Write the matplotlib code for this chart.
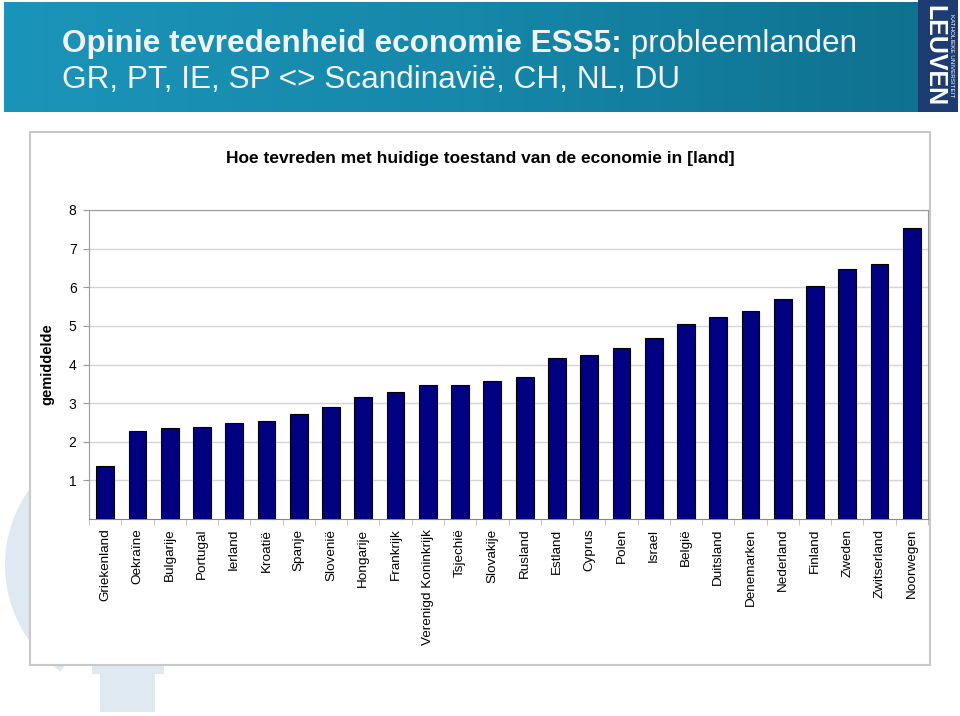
import numpy as np
import matplotlib
matplotlib.use("Agg")
import matplotlib.pyplot as plt
from matplotlib.patches import Rectangle, Wedge
from matplotlib import font_manager

countries = ['Griekenland', 'Oekraïne', 'Bulgarije', 'Portugal', 'Ierland', 'Kroatië',
             'Spanje', 'Slovenië', 'Hongarije', 'Frankrijk', 'Verenigd Koninkrijk',
             'Tsjechië', 'Slovakije', 'Rusland', 'Estland', 'Cyprus', 'Polen', 'Israel',
             'België', 'Duitsland', 'Denemarken', 'Nederland', 'Finland', 'Zweden',
             'Zwitserland', 'Noorwegen']
values = [1.37, 2.29, 2.35, 2.38, 2.48, 2.55, 2.72, 2.89, 3.16, 3.29, 3.47,
          3.47, 3.58, 3.67, 4.18, 4.25, 4.44, 4.69, 5.06, 5.22, 5.39, 5.70,
          6.03, 6.47, 6.61, 7.53]
y_ticks = [1, 2, 3, 4, 5, 6, 7, 8]

title1_bold = 'Opinie tevredenheid economie ESS5:'
title1_rest = ' probleemlanden'
title2 = 'GR, PT, IE, SP <> Scandinavië, CH, NL, DU'
chart_title = 'Hoe tevreden met huidige toestand van de economie in [land]'

names = {f.name for f in font_manager.fontManager.ttflist}
narrow = 'Liberation Sans Narrow' if 'Liberation Sans Narrow' in names else 'Liberation Sans'
banner_size = 24 if narrow == 'Liberation Sans Narrow' else 22.7
plt.rcParams['font.family'] = ['Liberation Sans', 'DejaVu Sans']

W, H = 960, 716
fig = plt.figure(figsize=(9.6, 7.16), dpi=100)


def fx(px):
    return px / W


def fy(py):
    return 1 - py / H


# faint key watermark in the background
wm = '#dfe9f1'
ax_bg = fig.add_axes([0, 0, 1, 1], zorder=0)
ax_bg.set_xlim(0, W)
ax_bg.set_ylim(H, 0)
ax_bg.axis('off')
ax_bg.add_patch(Rectangle((100, 660), 55, 52, facecolor=wm, edgecolor='none'))
ax_bg.add_patch(Rectangle((92, 660), 72, 14, facecolor=wm, edgecolor='none'))
ax_bg.add_patch(Wedge((135, 565), 130, 125, 225, width=24, facecolor=wm, edgecolor='none'))

# banner with gradient
ax_ban = fig.add_axes([fx(4), fy(112), fx(916), 110 / H], zorder=1)
grad = np.linspace(0, 1, 256).reshape(1, -1)
cmap = matplotlib.colors.LinearSegmentedColormap.from_list('ban', ['#1b94b9', '#1688aa', '#0f7190'])
ax_ban.imshow(grad, aspect='auto', cmap=cmap, extent=[0, 1, 0, 1])
ax_ban.axis('off')

# logo box
ax_logo = fig.add_axes([fx(918), fy(112), fx(40), 112 / H], zorder=1)
ax_logo.set_facecolor('#1d3c72')
ax_logo.set_xticks([])
ax_logo.set_yticks([])
for s in ax_logo.spines.values():
    s.set_visible(False)
ax_logo.text(0.42, 0.5, 'LEUVEN', rotation=-90, color='white', fontsize=18, fontweight='bold',
             ha='center', va='center', transform=ax_logo.transAxes)
ax_logo.text(0.85, 0.5, 'KATHOLIEKE UNIVERSITEIT', rotation=-90, color='white', fontsize=4.5,
             ha='center', va='center', transform=ax_logo.transAxes)

# banner texts
t1 = fig.text(fx(62), fy(52), title1_bold, color='#f2f2f2', fontsize=banner_size, fontweight='bold',
              family=[narrow, 'DejaVu Sans'], va='baseline', zorder=3)
fig.canvas.draw()
bb = t1.get_window_extent(fig.canvas.get_renderer())
fig.text(bb.x1 / W, fy(52), title1_rest, color='#f2f2f2', fontsize=banner_size,
         family=[narrow, 'DejaVu Sans'], va='baseline', zorder=3)
fig.text(fx(62), fy(88), title2, color='#f2f2f2', fontsize=banner_size,
         family=[narrow, 'DejaVu Sans'], va='baseline', zorder=3)

# white chart box
fig.patches.append(Rectangle((fx(30), fy(665)), fx(900), 533 / H, transform=fig.transFigure,
                             facecolor='white', edgecolor='#c9c9c9', linewidth=1.5, zorder=1))

fig.text(0.5, fy(158), chart_title, ha='center', va='center', fontsize=12.5,
         fontweight='bold', color='black', zorder=3)

# bar chart
ax = fig.add_axes([fx(89), fy(519), fx(839), 309 / H], zorder=2)
ax.patch.set_alpha(0)
x = np.arange(len(countries))
ax.bar(x, values, width=0.55, color='#000080', edgecolor='black', linewidth=0.8, zorder=3)
ax.set_xlim(-0.5, len(countries) - 0.5)
ax.set_ylim(0, 8)
ax.set_yticks(y_ticks)
ax.set_yticklabels([str(t) for t in y_ticks], fontsize=10)
ax.yaxis.grid(True, color='#d4d4d4', linewidth=1, zorder=0)
ax.set_xticks(x)
ax.set_xticklabels(countries, rotation=90, fontsize=9.7)
ax.set_xticks(np.arange(len(countries) + 1) - 0.5, minor=True)
ax.tick_params(axis='x', which='major', length=0, pad=7)
ax.tick_params(axis='x', which='minor', length=4, color='#bbbbbb', direction='out')
ax.tick_params(axis='y', length=4, color='#999999', pad=5)
for side in ['left', 'right', 'top']:
    ax.spines[side].set_color('#9a9a9a')
ax.spines['bottom'].set_color('#888888')
ax.set_ylabel('gemiddelde', fontsize=10.5, fontweight='bold', labelpad=10)

fig.savefig('out.png', dpi=100, facecolor='white')
